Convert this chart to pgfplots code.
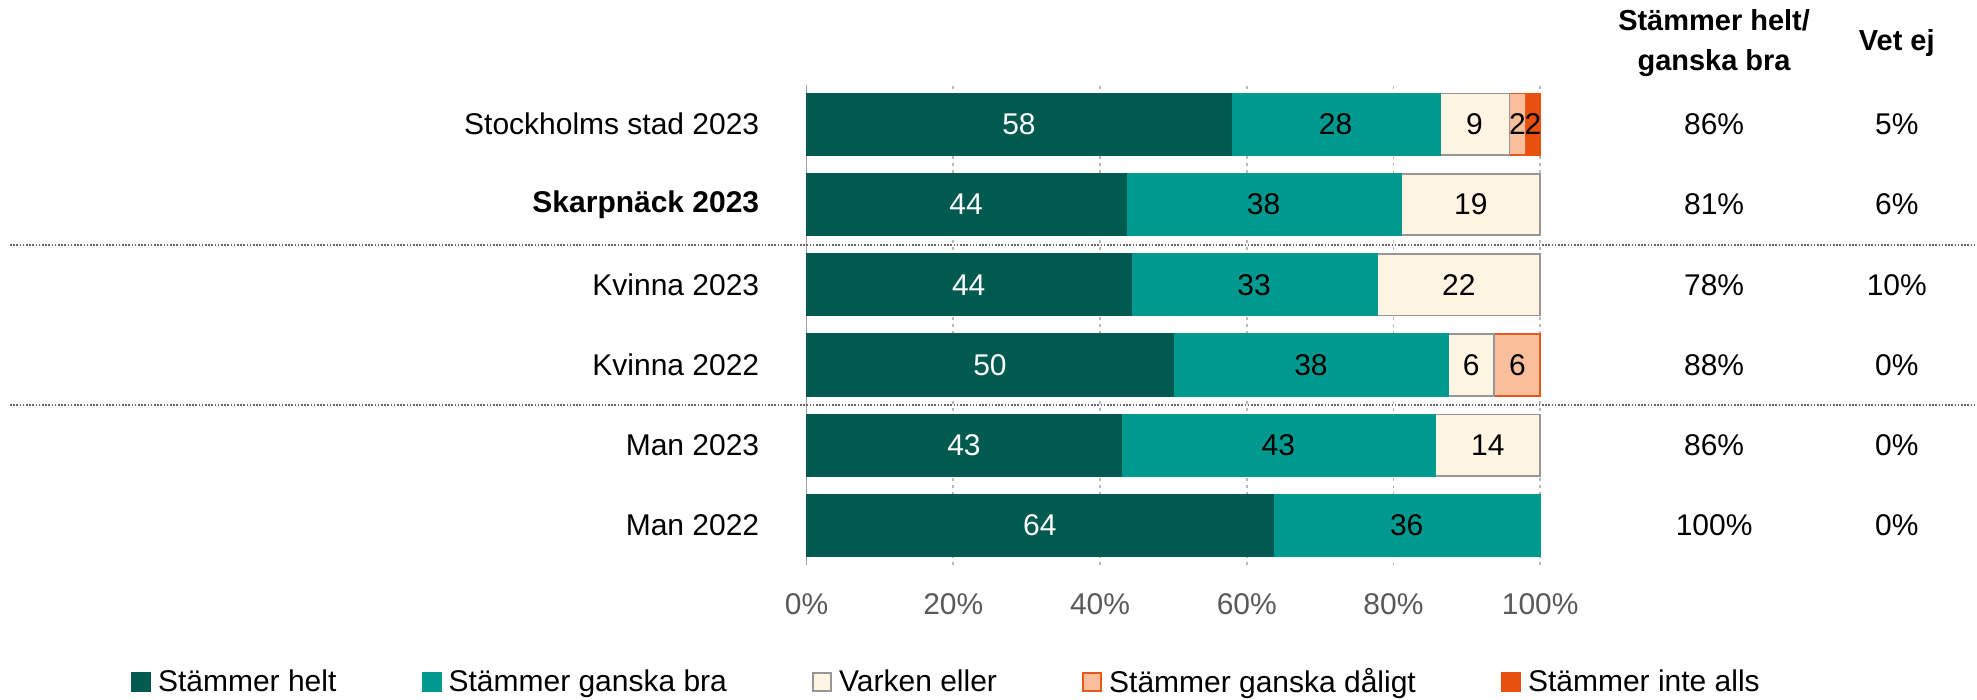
\documentclass[border=0pt]{standalone}
\usepackage{fontspec}
\setmainfont{Liberation Sans}
\usepackage{pgfplots}
\pgfplotsset{compat=1.18}
\usepackage{pgfplotstable}
\definecolor{cA}{HTML}{005A4F}
\definecolor{cB}{HTML}{00998F}
\definecolor{cC}{HTML}{FFF5E2}
\definecolor{cCb}{HTML}{969696}
\definecolor{cD}{HTML}{F9BF9C}
\definecolor{cDb}{HTML}{E8571B}
\definecolor{cE}{HTML}{E8500E}
\definecolor{tickgray}{HTML}{595959}
\newcommand\f{\fontsize{15}{18}\selectfont}
\pgfplotsset{
  /pgf/number format/assume math mode=true,
  bars/.style={xbar, bar width=30.75pt, bar shift=0pt, line width=0.9pt,
    legend image code/.code={\draw[##1] (0pt,-4.5pt) rectangle (9pt,4.5pt);}},
  lab/.style={draw=none, mark=none, forget plot, nodes near coords,
    nodes near coords align={center}, point meta=explicit,
    every node near coord/.append style={font=\f, inner sep=0pt, anchor=center}},
}
% right end of each segment (cumulative), y = row position (top = 5)
\pgfplotstableread{
y a b c d e
5 57.9 86.3 95.8 98.0 100
4 43.5 81.1 100 100 100
3 44.2 77.8 100 100 100
2 50.0 87.5 93.75 100 100
1 42.9 85.7 100 100 100
0 63.6 100 100 100 100
}\ends
\pgfplotstableread{
x y l
28.95 5 58
21.75 4 44
22.1 3 44
25.0 2 50
21.45 1 43
31.8 0 64
}\whitelabels
\pgfplotstableread{
x y l
72.1 5 28
91.05 5 9
96.9 5 2
99.0 5 2
62.3 4 38
90.55 4 19
61.0 3 33
88.9 3 22
68.75 2 38
90.6 2 6
96.9 2 6
64.3 1 43
92.85 1 14
81.8 0 36
}\blacklabels
\pgfplotstableread{
x y l
123.7 5 86
123.7 4 81
123.7 3 78
123.7 2 88
123.7 1 86
123.7 0 100
148.6 5 5
148.6 4 6
148.6 3 10
148.6 2 0
148.6 1 0
148.6 0 0
}\sidecols
\begin{document}
\begin{tikzpicture}
\path (0,0) coordinate (L0) rectangle (988.5pt,350pt);
\path (5pt,0) coordinate (L) (988.5pt,0) coordinate (R);
\begin{axis}[
  at={(403.5pt,67.5pt)}, anchor=south west,
  scale only axis, width=367pt, height=240pt,
  xmin=0, xmax=100, ymin=-0.49, ymax=5.49,
  clip=false,
  axis line style={draw=none},
  tick style={draw=none},
  xtick={20,40,60,80,100},
  xticklabel={\pgfmathprintnumber{\tick}\%},
  extra x ticks={0}, extra x tick labels={0\%},
  extra x tick style={major grid style={solid, draw=gray!75, line width=0.8pt}},
  xmajorgrids,
  major grid style={draw=gray!55, line width=0.9pt, dash pattern=on 1.5pt off 2pt},
  xticklabel style={font=\f, text=tickgray, anchor=center, yshift=-19.5pt, inner sep=0pt},
  ytick={0,1,2,3,4,5},
  yticklabels={Man 2022, Man 2023, Kvinna 2022, Kvinna 2023, \textbf{Skarpnäck 2023}, Stockholms stad 2023},
  yticklabel style={font=\f, anchor=east, inner sep=0pt, xshift=-23.5pt},
  legend columns=5, reverse legend,
  legend style={at={(-0.921,-0.244)}, anchor=west, draw=none, fill=none,
    inner sep=0pt, nodes={inner sep=0pt}, font=\f, cells={anchor=west},
    /tikz/every odd column/.append style={column sep=3.5pt},
    /tikz/every even column/.append style={column sep=42.75pt}},
]
\addplot[bars, fill=cE, draw=cE] table[x=e, y=y]{\ends};
\addlegendentry{Stämmer inte alls}
\addplot[bars, fill=cD, draw=cDb] table[x=d, y=y]{\ends};
\addlegendentry{Stämmer ganska dåligt}
\addplot[bars, fill=cC, draw=cCb] table[x=c, y=y]{\ends};
\addlegendentry{Varken eller}
\addplot[bars, fill=cB, draw=cB] table[x=b, y=y]{\ends};
\addlegendentry{Stämmer ganska bra}
\addplot[bars, fill=cA, draw=cA] table[x=a, y=y]{\ends};
\addlegendentry{Stämmer helt}

\addplot[lab, every node near coord/.append style={text=white}] table[x=x, y=y, meta=l]{\whitelabels};
\addplot[lab, every node near coord/.append style={text=black}] table[x=x, y=y, meta=l]{\blacklabels};
\addplot[lab, every node near coord/.append style={text=black},
  nodes near coords={\pgfmathprintnumber{\pgfplotspointmeta}\%}] table[x=x, y=y, meta=l]{\sidecols};

\node[font=\bfseries\fontsize{14.5}{20}\selectfont, align=center] at (axis cs:123.7,6.01) {Stämmer helt/\\ganska bra};
\node[font=\bfseries\fontsize{14.5}{20}\selectfont] at (axis cs:148.6,6.01) {Vet ej};
\coordinate (s1) at (axis cs:0,3.5);
\coordinate (s2) at (axis cs:0,1.5);
\end{axis}
\draw[black!60, line width=1pt, dash pattern=on 0.8pt off 0.8pt] (L |- s1) -- (R |- s1);
\draw[black!60, line width=1pt, dash pattern=on 0.8pt off 0.8pt] (L |- s2) -- (R |- s2);
\end{tikzpicture}
\end{document}
